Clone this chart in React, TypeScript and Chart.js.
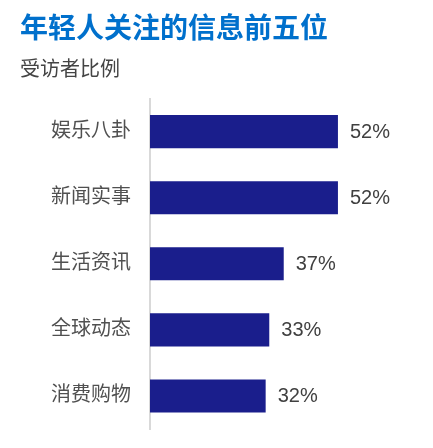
import { useEffect, useRef } from 'react'
import { Chart, registerables } from 'chart.js'

Chart.register(...registerables)

const TITLE = '年轻人关注的信息前五位'
const SUBTITLE = '受访者比例'
const CATEGORIES = ['娱乐八卦', '新闻实事', '生活资讯', '全球动态', '消费购物']
const SHARES = [52, 52, 37, 33, 32]

const FONT = "'Liberation Sans', 'Noto Sans CJK SC', sans-serif"
const BAR_COLOR = '#1a1e8c'

// draws "52%" to the right of each bar
const valueLabels = {
  id: 'valueLabels',
  afterDatasetsDraw(chart: Chart) {
    const { ctx } = chart
    const meta = chart.getDatasetMeta(0)
    ctx.save()
    ctx.font = `20px ${FONT}`
    ctx.fillStyle = '#404040'
    ctx.textAlign = 'left'
    ctx.textBaseline = 'middle'
    meta.data.forEach((bar: any, i) => {
      ctx.fillText(`${SHARES[i]}%`, bar.x + 12, bar.y + 1)
    })
    ctx.restore()
  },
}

export default function App() {
  const canvasRef = useRef<HTMLCanvasElement>(null)
  const chartRef = useRef<Chart | null>(null)

  useEffect(() => {
    if (!canvasRef.current) return
    chartRef.current?.destroy()

    chartRef.current = new Chart(canvasRef.current, {
      type: 'bar',
      data: {
        labels: CATEGORIES,
        datasets: [{
          data: SHARES,
          backgroundColor: BAR_COLOR,
          barPercentage: 0.5,
          categoryPercentage: 1,
        }],
      },
      plugins: [valueLabels],
      options: {
        indexAxis: 'y',
        animation: false,
        responsive: true,
        maintainAspectRatio: false,
        layout: { padding: { left: 20, right: 30, top: 0, bottom: 19 } },
        plugins: {
          legend: { display: false },
          tooltip: { enabled: false },
          title: {
            display: true,
            text: TITLE,
            align: 'start',
            color: '#0070cc',
            font: { family: FONT, size: 28, weight: 'bold' },
            padding: { top: 13, bottom: 6 },
          },
          subtitle: {
            display: true,
            text: SUBTITLE,
            align: 'start',
            color: '#444444',
            font: { family: FONT, size: 20 },
            padding: { top: 6, bottom: 16 },
          },
        },
        scales: {
          x: { display: false, min: 0, max: 70 },
          y: {
            afterFit: (scale: any) => {
              scale.width = 130
              // tick padding should only push labels sideways, not shrink the plot
              scale.paddingTop = 0
              scale.paddingBottom = 0
            },
            grid: { display: false, drawTicks: false },
            border: { display: true, color: '#d9d9d9', width: 2 },
            ticks: { color: '#505050', padding: 19, font: { family: FONT, size: 20 } },
          },
        },
      },
    })

    return () => chartRef.current?.destroy()
  }, [])

  return (
    <div style={{ position: 'absolute', left: 0, top: 0, width: 433, height: 448, background: '#fff' }}>
      <canvas ref={canvasRef} />
    </div>
  )
}
